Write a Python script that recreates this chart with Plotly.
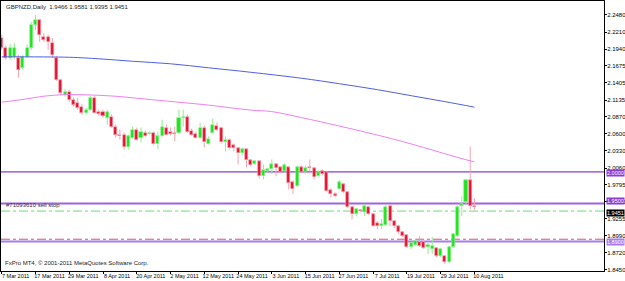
import plotly.graph_objects as go

header_text = "GBPNZD,Daily  1.9466 1.9581 1.9395 1.9451"
footer_text = "FxPro MT4, \u00a9 2001-2011 MetaQuotes Software Corp."
order_text = "#71093610 sell stop"

opens = [2.2118, 2.1960, 2.1803, 2.1818, 2.1803, 2.1645, 2.1818, 2.1960, 2.2322, 2.2401,
         2.2133, 2.2133, 2.2039, 2.1803, 2.1456, 2.1220, 2.1267, 2.1141, 2.1094, 2.1031,
         2.0936, 2.0984, 2.1173, 2.0952, 2.0952, 2.0858, 2.0874, 2.0716, 2.0590, 2.0590,
         2.0385, 2.0543, 2.0669, 2.0543, 2.0622, 2.0606, 2.0622, 2.0433, 2.0559, 2.0700,
         2.0637, 2.0622, 2.0622, 2.0858, 2.0874, 2.0653, 2.0606, 2.0543, 2.0700, 2.0448,
         2.0622, 2.0732, 2.0700, 2.0464, 2.0511, 2.0417, 2.0370, 2.0291, 2.0354, 2.0181,
         2.0118, 2.0165, 1.9929, 2.0007, 2.0039, 2.0118, 2.0070, 2.0007, 2.0070, 1.9834,
         1.9771, 2.0070, 1.9992, 2.0070, 2.0055, 1.9929, 2.0007, 1.9992, 1.9708, 1.9645,
         1.9724, 1.9803, 1.9677, 1.9440, 1.9330, 1.9393, 1.9362, 1.9440, 1.9330, 1.9188,
         1.9141, 1.9157, 1.9456, 1.9220, 1.9141, 1.9047, 1.9000, 1.8811, 1.8842, 1.8889,
         1.8889, 1.8811, 1.8779, 1.8795, 1.8669, 1.8669, 1.8574, 1.8811, 1.8984, 1.9456,
         1.9519, 1.9866, 1.9466]
highs = [2.2165, 2.1992, 2.2023, 2.2039, 2.1850, 2.1850, 2.2007, 2.2370, 2.2480, 2.2417,
         2.2196, 2.2165, 2.2118, 2.1834, 2.1472, 2.1314, 2.1299, 2.1173, 2.1173, 2.1078,
         2.1015, 2.1204, 2.1204, 2.0984, 2.0984, 2.0984, 2.0905, 2.0748, 2.0669, 2.0622,
         2.0590, 2.0716, 2.0700, 2.0700, 2.0653, 2.0637, 2.0637, 2.0637, 2.0826, 2.0748,
         2.0700, 2.0716, 2.0984, 2.0984, 2.0905, 2.0685, 2.0637, 2.0779, 2.0732, 2.0559,
         2.0842, 2.0779, 2.0716, 2.0559, 2.0527, 2.0448, 2.0385, 2.0385, 2.0370, 2.0196,
         2.0181, 2.0181, 2.0118, 2.0055, 2.0196, 2.0133, 2.0086, 2.0133, 2.0086, 1.9866,
         2.0086, 2.0102, 2.0102, 2.0196, 2.0070, 2.0023, 2.0039, 2.0007, 1.9740, 1.9677,
         1.9866, 1.9818, 1.9692, 1.9456, 1.9425, 1.9409, 1.9488, 1.9456, 1.9346, 1.9220,
         1.9251, 1.9488, 1.9488, 1.9236, 1.9157, 1.9063, 1.9015, 1.8889, 1.8937, 1.8984,
         1.8905, 1.8874, 1.8968, 1.8811, 1.8795, 1.8685, 1.8826, 1.9031, 1.9472, 1.9614,
         1.9881, 2.0401, 1.9581]
lows = [2.1929, 2.1771, 2.1771, 2.1787, 2.1488, 2.1614, 2.1803, 2.1929, 2.2244, 2.2055,
        2.2055, 2.1929, 2.1803, 2.1440, 2.1220, 2.1188, 2.1110, 2.1031, 2.0984, 2.0905,
        2.0905, 2.0968, 2.0921, 2.0889, 2.0858, 2.0748, 2.0700, 2.0543, 2.0511, 2.0354,
        2.0354, 2.0527, 2.0496, 2.0464, 2.0543, 2.0590, 2.0417, 2.0354, 2.0543, 2.0574,
        2.0574, 2.0480, 2.0606, 2.0716, 2.0622, 2.0574, 2.0527, 2.0527, 2.0385, 2.0433,
        2.0606, 2.0653, 2.0448, 2.0322, 2.0354, 2.0322, 2.0118, 2.0259, 2.0070, 2.0086,
        2.0102, 1.9897, 1.9881, 1.9992, 1.9960, 1.9929, 1.9976, 1.9992, 1.9724, 1.9645,
        1.9755, 1.9976, 1.9976, 2.0007, 1.9881, 1.9913, 1.9944, 1.9677, 1.9598, 1.9598,
        1.9708, 1.9661, 1.9425, 1.9251, 1.9299, 1.9362, 1.9299, 1.9314, 1.9125, 1.9094,
        1.9094, 1.9141, 1.9141, 1.9110, 1.9015, 1.8968, 1.8795, 1.8779, 1.8826, 1.8811,
        1.8779, 1.8700, 1.8700, 1.8653, 1.8653, 1.8543, 1.8559, 1.8795, 1.8968, 1.9299,
        1.9488, 1.9409, 1.9395]
closes = [2.1960, 2.1803, 2.1960, 2.1960, 2.1614, 2.1818, 2.1960, 2.2322, 2.2401, 2.2165,
          2.2086, 2.2055, 2.1850, 2.1456, 2.1251, 2.1267, 2.1141, 2.1062, 2.1015, 2.0936,
          2.0984, 2.1173, 2.0936, 2.0921, 2.0889, 2.0952, 2.0716, 2.0590, 2.0559, 2.0385,
          2.0559, 2.0669, 2.0511, 2.0637, 2.0559, 2.0622, 2.0433, 2.0559, 2.0716, 2.0590,
          2.0606, 2.0606, 2.0858, 2.0874, 2.0637, 2.0590, 2.0543, 2.0700, 2.0464, 2.0527,
          2.0748, 2.0669, 2.0464, 2.0511, 2.0370, 2.0370, 2.0291, 2.0354, 2.0181, 2.0102,
          2.0165, 1.9929, 2.0023, 2.0039, 2.0118, 2.0055, 1.9992, 2.0102, 1.9818, 1.9724,
          2.0070, 1.9992, 2.0055, 2.0055, 1.9913, 1.9992, 1.9960, 1.9692, 1.9645, 1.9614,
          1.9834, 1.9677, 1.9440, 1.9330, 1.9409, 1.9377, 1.9456, 1.9330, 1.9141, 1.9141,
          1.9173, 1.9440, 1.9220, 1.9141, 1.9047, 1.8984, 1.8811, 1.8874, 1.8905, 1.8826,
          1.8795, 1.8842, 1.8826, 1.8669, 1.8779, 1.8574, 1.8811, 1.9015, 1.9440, 1.9488,
          1.9866, 1.9456, 1.9451]

date_labels = ["7 Mar 2011", "17 Mar 2011", "29 Mar 2011", "8 Apr 2011", "20 Apr 2011",
               "2 May 2011", "12 May 2011", "24 May 2011", "3 Jun 2011", "15 Jun 2011",
               "27 Jun 2011", "7 Jul 2011", "19 Jul 2011", "29 Jul 2011", "10 Aug 2011"]
bars_per_label = 8

price_ticks = [2.2480, 2.2210, 2.1940, 2.1675, 2.1405, 2.1135, 2.0870, 2.0600,
               2.0330, 2.0060, 1.9795, 1.9525, 1.9255, 1.8990, 1.8720, 1.8450]

ma_slow_idx = [0, 16, 23, 31, 40, 49, 59, 71, 80, 89, 97, 105, 112]
ma_slow = [2.1818, 2.1811, 2.1787, 2.1748, 2.1708, 2.1645, 2.1574, 2.1480, 2.1393,
           2.1299, 2.1204, 2.1110, 2.1023]
ma_fast_idx = [0, 5, 10, 15, 21, 27, 33, 43, 49, 59, 64, 71, 80, 88, 94, 100, 108, 112]
ma_fast = [2.1102, 2.1144, 2.1196, 2.1220, 2.1215, 2.1195, 2.1157, 2.1094, 2.1055,
           2.0976, 2.0952, 2.0858, 2.0724, 2.0598, 2.0496, 2.0385, 2.0228, 2.0157]

level_hi = 2.0000
level_mid = 1.9500
level_lo = 1.8900
sell_stop = 1.9380
target = 1.8935
bid = 1.9451

UP_FILL, UP_EDGE = "#1FE31F", "#8EEE8E"
DN_FILL, DN_EDGE = "#E4132F", "#F3A3B0"
FONT = "Liberation Sans"
NARROW = "Liberation Sans Narrow, Liberation Sans"

n = len(opens)
idx = list(range(n))
is_up = [c >= o for o, c in zip(opens, closes)]
bases = [min(o, c) for o, c in zip(opens, closes)]
heights = [max(abs(c - o), 0.0003) for o, c in zip(opens, closes)]

fig = go.Figure()

for up_flag, col in [(True, UP_EDGE), (False, DN_EDGE)]:
    wx, wy = [], []
    for i in idx:
        if is_up[i] != up_flag:
            continue
        top = max(opens[i], closes[i])
        bot = min(opens[i], closes[i])
        wx += [i, i, None, i, i, None]
        wy += [top, highs[i], None, lows[i], bot, None]
    fig.add_trace(go.Scatter(x=wx, y=wy, mode="lines", line=dict(color=col, width=1),
                             hoverinfo="skip", showlegend=False))

fig.add_trace(go.Bar(x=idx, y=heights, base=bases, width=0.72,
                     marker=dict(color=[UP_FILL if u else DN_FILL for u in is_up],
                                 line=dict(color=[UP_EDGE if u else DN_EDGE for u in is_up], width=0.6)),
                     showlegend=False))

fig.add_trace(go.Scatter(x=ma_slow_idx, y=ma_slow, mode="lines",
                         line=dict(color="#4F5FE6", width=1, shape="spline"), showlegend=False))
fig.add_trace(go.Scatter(x=ma_fast_idx, y=ma_fast, mode="lines",
                         line=dict(color="#F080F0", width=1, shape="spline"), showlegend=False))

shapes = [
    dict(type="line", xref="paper", x0=0, x1=1, yref="y", y0=level_hi, y1=level_hi,
         line=dict(color="#8A3CD6", width=1.3), layer="below"),
    dict(type="line", xref="paper", x0=0, x1=1, yref="y", y0=level_mid, y1=level_mid,
         line=dict(color="#9E62E4", width=2), layer="below"),
    dict(type="line", xref="paper", x0=0, x1=1, yref="y", y0=level_lo, y1=level_lo,
         line=dict(color="#A87CEC", width=2), layer="below"),
    dict(type="line", xref="paper", x0=0, x1=1, yref="y", y0=sell_stop, y1=sell_stop,
         line=dict(color="#6CDC6C", width=1, dash="dashdot"), layer="below"),
    dict(type="line", xref="paper", x0=0, x1=1, yref="y", y0=target, y1=target,
         line=dict(color="#E0506A", width=1, dash="dashdot"), layer="below"),
]

def box(val, bg, yshift=0):
    return dict(xref="paper", x=1, xanchor="left", xshift=2, yref="y", y=val, yanchor="middle",
                yshift=yshift, text=f"{val:.4f}", showarrow=False, bgcolor=bg, borderpad=0,
                font=dict(family=NARROW, size=5.5, color="white"))

annotations = [
    dict(xref="paper", x=0, xanchor="left", xshift=3, yref="paper", y=1, yanchor="top", yshift=-1,
         text=header_text, showarrow=False, font=dict(family=FONT, size=6, color="#222222")),
    dict(xref="paper", x=0, xanchor="left", xshift=2, yref="paper", y=0, yanchor="bottom", yshift=3,
         text=footer_text, showarrow=False, font=dict(family=FONT, size=6, color="#222222")),
    dict(xref="paper", x=0, xanchor="left", xshift=3, yref="y", y=sell_stop, yanchor="bottom", yshift=1,
         text=order_text, showarrow=False, font=dict(family=FONT, size=6, color="#333333")),
    box(level_hi, "#8A3CD6", -1),
    box(level_mid, "#8A3CD6", 2),
    dict(xref="paper", x=1, xanchor="left", xshift=2, yref="y", y=bid, yanchor="top", yshift=-2,
         text=f"{bid:.4f}", showarrow=False, bgcolor="#000000", borderpad=0,
         font=dict(family=NARROW, size=5.5, color="white")),
    box(level_lo, "#A87CEC", -1),
]

fig.update_layout(
    width=625, height=281,
    margin=dict(l=1, r=21, t=1, b=10, autoexpand=False),
    paper_bgcolor="white", plot_bgcolor="white",
    showlegend=False,
    bargap=0,
    shapes=shapes,
    annotations=annotations,
    xaxis=dict(range=[-0.17, 142.7], tickmode="array",
               tickvals=list(range(0, n, bars_per_label)), ticktext=date_labels,
               tickangle=0, automargin=False,
               ticks="outside", ticklen=2, tickcolor="#000000", ticklabelshift=14,
               ticklabelstandoff=-3,
               showline=True, linecolor="#000000", linewidth=1, mirror=True,
               showgrid=False, zeroline=False,
               tickfont=dict(family=FONT, size=5.5, color="#000000")),
    yaxis=dict(range=[1.84328, 2.27005], side="right", tickmode="array",
               tickvals=price_ticks, ticktext=[f"{v:.4f}" for v in price_ticks],
               automargin=False,
               ticks="outside", ticklen=2, tickcolor="#000000",
               ticklabelstandoff=-1,
               showline=True, linecolor="#000000", linewidth=1, mirror=True,
               showgrid=False, zeroline=False,
               tickfont=dict(family=NARROW, size=6, color="#000000")),
)

fig.write_html("out.html")
